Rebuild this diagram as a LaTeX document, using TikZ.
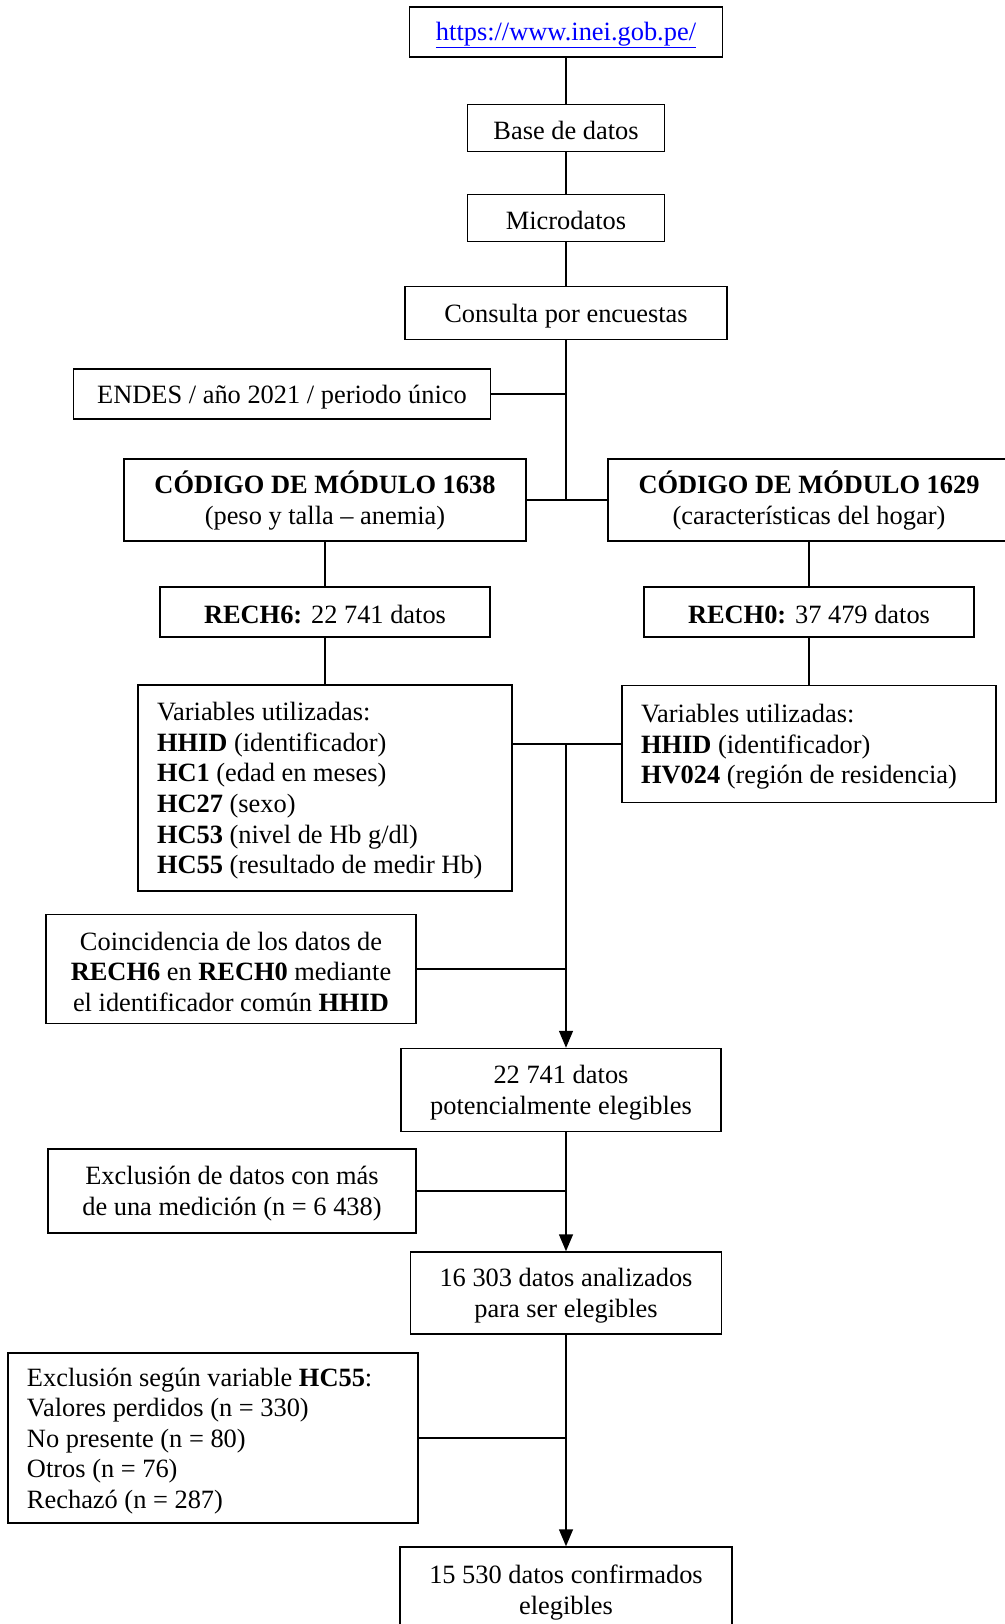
\documentclass[tikz,border=0pt]{standalone}
\usepackage{fontspec}
\setmainfont{Liberation Serif}
\usetikzlibrary{arrows.meta}

\tikzset{
  box/.style={draw, line width=1.5pt, inner sep=0pt, align=flush center,
    font=\fontsize{26.4}{30.6}\selectfont, text height=24pt},
  listbox/.style={box, align=flush left, inner xsep=19pt},
  link/.style={line width=1.5pt},
  arr/.style={link, -{Triangle[width=14pt,length=17pt]}}
}

\begin{document}
\begin{tikzpicture}[x=1pt, y=-1pt]
  \useasboundingbox (0,0) rectangle (1004,1624);

  % top chain
  \node[box, text width=313, minimum height=50] (url) at (566,32)
    {\textcolor{blue}{\underline{https://www.inei.gob.pe/}}};
  \node[box, text width=197, minimum height=47] (base) at (566,128) {Base de datos};
  \node[box, text width=197, minimum height=47] (micro) at (566,218) {Microdatos};
  \node[box, text width=322, minimum height=53] (cons) at (566,313) {Consulta por encuestas};
  \node[box, text width=417, minimum height=50] (endes) at (282,394) {ENDES / año 2021 / periodo único};

  % modules
  \node[box, text width=402, minimum height=82] (c1638) at (325,500)
    {\textbf{CÓDIGO DE MÓDULO 1638}\\(peso y talla – anemia)};
  \node[box, text width=402, minimum height=82] (c1629) at (809,500)
    {\textbf{CÓDIGO DE MÓDULO 1629}\\(características del hogar)};
  \node[box, text width=330, minimum height=50] (rech6) at (325,612) {\textbf{RECH6:} 22 741 datos};
  \node[box, text width=330, minimum height=50] (rech0) at (809,612) {\textbf{RECH0:} 37 479 datos};
  \node[listbox, text width=336, minimum height=206] (varl) at (325,788)
    {Variables utilizadas:\\
     \textbf{HHID} (identificador)\\
     \textbf{HC1} (edad en meses)\\
     \textbf{HC27} (sexo)\\
     \textbf{HC53} (nivel de Hb g/dl)\\
     \textbf{HC55} (resultado de medir Hb)};
  \node[listbox, text width=336, minimum height=117] (varr) at (809,744)
    {Variables utilizadas:\\
     \textbf{HHID} (identificador)\\
     \textbf{HV024} (región de residencia)};

  % merging and exclusions
  \node[box, text width=370, minimum height=109] (coinc) at (231,969)
    {Coincidencia de los datos de\\\textbf{RECH6} en \textbf{RECH0} mediante\\el identificador común \textbf{HHID}};
  \node[box, text width=320, minimum height=83] (pot) at (561,1090)
    {22 741 datos\\potencialmente elegibles};
  \node[box, text width=368, minimum height=84] (excl1) at (232,1191)
    {Exclusión de datos con más\\de una medición (n = 6 438)};
  \node[box, text width=311, minimum height=82] (ana) at (566,1293)
    {16 303 datos analizados\\para ser elegibles};
  \node[listbox, text width=372, minimum height=170] (excl2) at (213,1438)
    {Exclusión según variable \textbf{HC55}:\\
     Valores perdidos (n = 330)\\
     No presente (n = 80)\\
     Otros (n = 76)\\
     Rechazó (n = 287)};
  \node[box, text width=332, minimum height=86] (conf) at (566,1590)
    {15 530 datos confirmados\\elegibles};

  \coordinate (jvar) at (566,744);

  % connectors
  \draw[link] (url) -- (base);
  \draw[link] (base) -- (micro);
  \draw[link] (micro) -- (cons);
  \draw[link] (cons.south) -- (cons.south |- c1638.east);
  \draw[link] (endes.east) -- (endes.east -| cons.south);
  \draw[link] (c1638.east) -- (c1629.west);
  \draw[link] (c1638) -- (rech6);
  \draw[link] (rech6) -- (varl);
  \draw[link] (c1629) -- (rech0);
  \draw[link] (rech0) -- (varr);
  \draw[link] (varl.east |- varr.west) -- (varr.west);
  \draw[arr] (jvar) -- (jvar |- pot.north);
  \draw[link] (coinc.east) -- (coinc.east -| jvar);
  \draw[arr] (pot.south -| jvar) -- (jvar |- ana.north);
  \draw[link] (excl1.east) -- (excl1.east -| jvar);
  \draw[arr] (ana) -- (conf);
  \draw[link] (excl2.east) -- (excl2.east -| ana.south);
\end{tikzpicture}
\end{document}
